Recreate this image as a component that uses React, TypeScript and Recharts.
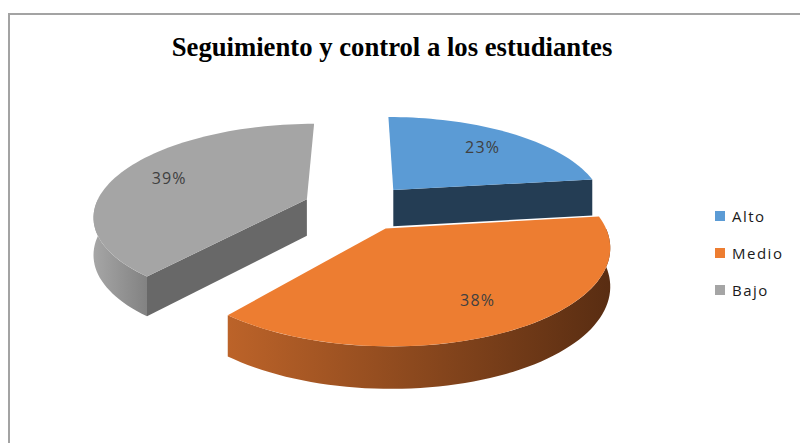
import React from 'react';
import { PieChart, Pie, Cell, Legend } from 'recharts';

// data
const categories = ['Alto', 'Medio', 'Bajo'];
const values = [23, 38, 39];

const topColors = ['#5B9BD5', '#ED7D31', '#A5A5A5'];
const sideColors = ['#243D54', '#8A4A1E', '#686868'];
const wallColors = [
  ['#3E6C96', '#22394F'],
  ['#BC6329', '#592D12'],
  ['#A6A6A6', '#828282'],
];

const data = categories.map((name, i) => ({ name, value: values[i] }));

// fake 3D look (tilt + perspective + exploded slices)
const TILT = 0.426;
const DIST = 6;
const EXPLODE = 0.26;
const DEPTH = 37;

const rad = (d: number) => (d * Math.PI) / 180;

function projector(cx: number, cy: number, R: number, mid: number) {
  const ex = EXPLODE * R * Math.cos(rad(mid));
  const ez = EXPLODE * R * Math.sin(rad(mid));
  return (rho: number, a: number, bottom = false): [number, number] => {
    const X = ex + rho * R * Math.cos(rad(a));
    const Z = ez + rho * R * Math.sin(rad(a));
    const s = (DIST * R) / (DIST * R + Z);
    const drop = bottom ? DEPTH * Math.pow(s, 0.6) : 0;
    return [cx + X * s, cy - Z * TILT * s + drop];
  };
}

const arcPts = (p: any, from: number, to: number, bottom = false) => {
  const n = Math.max(2, Math.ceil(Math.abs(from - to) / 2));
  const pts: [number, number][] = [];
  for (let i = 0; i <= n; i++) pts.push(p(1, from + ((to - from) * i) / n, bottom));
  return pts;
};

const toPath = (pts: [number, number][]) =>
  pts.map((q, i) => `${i ? 'L' : 'M'}${q[0].toFixed(2)},${q[1].toFixed(2)}`).join(' ') + ' Z';

const Wedge3D = (props: any) => {
  const { cx, cy, outerRadius, startAngle, endAngle } = props;
  const name = props.payload?.name ?? props.name;
  const idx = Math.max(0, categories.indexOf(name));
  const mid = (startAngle + endAngle) / 2;
  const p = projector(cx, cy, outerRadius, mid);
  const apexTop = p(0, 0);
  const apexBot = p(0, 0, true);

  const faces: React.ReactNode[] = [];
  // radial side faces
  const radial = (a: number, key: string) => {
    const pts: [number, number][] = [apexTop, p(1, a), p(1, a, true), apexBot];
    faces.push(<path key={key} d={toPath(pts)} fill={sideColors[idx]} />);
  };
  if (Math.cos(rad(endAngle)) > 0.01) radial(endAngle, 'end');
  if (Math.cos(rad(startAngle)) < -0.01) radial(startAngle, 'start');

  // outer front wall
  const gid = `wall-grad-${idx}`;
  [0, -360].forEach((off) => {
    const lo = Math.max(endAngle, -180 + off);
    const hi = Math.min(startAngle, off);
    if (hi > lo) {
      const pts = [...arcPts(p, hi, lo), ...arcPts(p, lo, hi, true)];
      faces.push(<path key={`wall${off}`} d={toPath(pts)} fill={`url(#${gid})`} />);
    }
  });

  const top = [apexTop, ...arcPts(p, startAngle, endAngle)];

  return (
    <g>
      <defs>
        <linearGradient id={gid} x1="0" y1="0" x2="1" y2="0">
          <stop offset="0%" stopColor={wallColors[idx][0]} />
          <stop offset="100%" stopColor={wallColors[idx][1]} />
        </linearGradient>
      </defs>
      {faces}
      <path d={toPath(top)} fill={topColors[idx]} />
    </g>
  );
};

const renderLabel = (props: any) => {
  const { cx, cy, outerRadius, midAngle, percent } = props;
  const p = projector(cx, cy, outerRadius, midAngle);
  const [x, y] = p(0.74, midAngle);
  return (
    <text
      x={x}
      y={y}
      textAnchor="middle"
      dominantBaseline="central"
      fill="#404040"
      fontSize={16}
      letterSpacing={1.2}
      fontFamily="'Open Sans', sans-serif"
    >
      {`${Math.round(percent * 100)}%`}
    </text>
  );
};

const LegendBox = () => (
  <div>
    {categories.map((name, i) => (
      <div key={name} style={{ display: 'flex', alignItems: 'center', height: 37 }}>
        <span style={{ width: 10, height: 10, background: topColors[i], marginRight: 7 }} />
        <span style={{ fontFamily: "'Open Sans', sans-serif", fontSize: 15, letterSpacing: 1.5, color: '#1a1a1a' }}>
          {name}
        </span>
      </div>
    ))}
  </div>
);

export default function App() {
  return (
    <div style={{ position: 'absolute', left: 0, top: 0, width: 800, height: 443, background: '#fff', overflow: 'hidden' }}>
      <div
        style={{
          position: 'absolute',
          left: 8,
          top: 13,
          width: 850,
          height: 500,
          border: '2px solid #A3A3A3',
          boxSizing: 'border-box',
        }}
      />
      <div
        style={{
          position: 'absolute',
          left: 0,
          top: 32,
          width: 784,
          textAlign: 'center',
          fontFamily: "'Liberation Serif', 'Times New Roman', serif",
          fontWeight: 'bold',
          fontSize: 26.7,
          color: '#000',
        }}
      >
        Seguimiento y control a los estudiantes
      </div>
      <div style={{ position: 'absolute', left: 0, top: 0 }}>
        <PieChart width={800} height={443} margin={{ top: 0, right: 0, bottom: 0, left: 0 }}>
          <Pie
            data={data}
            dataKey="value"
            nameKey="name"
            cx={358}
            cy={207}
            outerRadius={212}
            startAngle={90}
            endAngle={-270}
            stroke="none"
            shape={Wedge3D}
            activeShape={Wedge3D}
            inactiveShape={Wedge3D}
            label={renderLabel}
            labelLine={false}
            isAnimationActive={false}
          >
            {data.map((d, i) => (
              <Cell key={d.name} fill={topColors[i]} />
            ))}
          </Pie>
          <Legend
            layout="vertical"
            content={<LegendBox />}
            wrapperStyle={{ position: 'absolute', left: 715, top: 197, width: 90 }}
          />
        </PieChart>
      </div>
    </div>
  );
}
